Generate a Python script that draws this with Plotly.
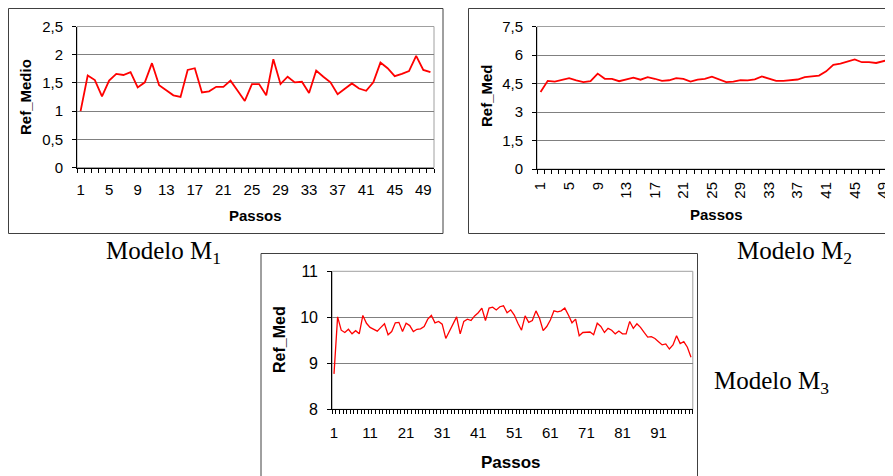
import plotly.graph_objects as go

# ---------------- data ----------------
m1_steps = list(range(1, 51))
m1_values = [1.00, 1.63, 1.55, 1.26, 1.54, 1.66, 1.64, 1.69, 1.42, 1.51,
             1.85, 1.46, 1.37, 1.28, 1.25, 1.73, 1.76, 1.33, 1.35, 1.43,
             1.43, 1.54, 1.36, 1.18, 1.48, 1.48, 1.28, 1.92, 1.48, 1.61,
             1.51, 1.52, 1.32, 1.72, 1.61, 1.51, 1.30, 1.40, 1.49, 1.40,
             1.36, 1.51, 1.86, 1.76, 1.62, 1.66, 1.71, 1.98, 1.73, 1.69]
m1_yticks = [0, 0.5, 1, 1.5, 2, 2.5]
m1_yticklabels = ["0", "0,5", "1", "1,5", "2", "2,5"]

m2_steps = list(range(1, 51))
m2_values = [4.05, 4.64, 4.60, 4.71, 4.78, 4.67, 4.57, 4.62, 5.02, 4.75,
             4.74, 4.62, 4.70, 4.81, 4.70, 4.83, 4.75, 4.64, 4.67, 4.78,
             4.74, 4.60, 4.70, 4.74, 4.86, 4.71, 4.57, 4.60, 4.68, 4.66,
             4.72, 4.87, 4.75, 4.64, 4.64, 4.66, 4.71, 4.83, 4.88, 4.92,
             5.14, 5.48, 5.55, 5.67, 5.77, 5.62, 5.62, 5.58, 5.67, 5.77]
m2_yticks = [0, 1.5, 3, 4.5, 6, 7.5]
m2_yticklabels = ["0", "1,5", "3", "4,5", "6", "7,5"]

m12_xticks = list(range(1, 51, 4))

m3_steps = list(range(1, 101))
m3_values = [8.77, 10.01, 9.72, 9.67, 9.74, 9.64, 9.71, 9.64, 10.04, 9.87,
             9.78, 9.74, 9.70, 9.78, 9.86, 9.62, 9.69, 9.88, 9.89, 9.69,
             9.87, 9.82, 9.69, 9.74, 9.75, 9.80, 9.96, 10.04, 9.88, 9.91,
             9.85, 9.54, 9.69, 9.87, 10.01, 9.64, 9.91, 9.96, 9.93, 10.03,
             10.10, 10.20, 9.93, 10.20, 10.22, 10.16, 10.23, 10.25, 10.10, 10.16,
             10.05, 9.87, 9.72, 10.03, 9.89, 9.93, 10.14, 9.98, 9.71, 9.80,
             9.94, 10.14, 10.12, 10.14, 10.20, 10.05, 9.88, 9.96, 9.60, 9.67,
             9.68, 9.68, 9.62, 9.87, 9.80, 9.67, 9.76, 9.72, 9.64, 9.70,
             9.64, 9.64, 9.91, 9.76, 9.86, 9.78, 9.67, 9.57, 9.58, 9.54,
             9.47, 9.40, 9.42, 9.31, 9.40, 9.60, 9.43, 9.47, 9.35, 9.13]
m3_yticks = [8, 9, 10, 11]
m3_yticklabels = ["8", "9", "10", "11"]
m3_xticks = list(range(1, 101, 10))

x_title = "Passos"
y_titles = ["Ref_Medio", "Ref_Med", "Ref_Med"]
captions = ["Modelo M<sub>1</sub>", "Modelo M<sub>2</sub>", "Modelo M<sub>3</sub>"]

# ---------------- layout helpers ----------------
W, H = 893, 476
OFF = 8  # the page body margin shifts the figure by 8 px


def fx(px):
    return (px - OFF) / W


def fy(py):
    return 1 - (py - OFF) / H


SANS = "Liberation Sans, Arial, sans-serif"
SERIF = "Liberation Serif, Times New Roman, serif"
RED = "#FF0000"
GRID = "#808080"
AXIS = "#000000"

fig = go.Figure()

fig.add_trace(go.Scatter(x=m1_steps, y=m1_values, mode="lines",
                         line=dict(color=RED, width=1.8), xaxis="x", yaxis="y",
                         showlegend=False, hoverinfo="x+y"))
fig.add_trace(go.Scatter(x=m2_steps, y=m2_values, mode="lines",
                         line=dict(color=RED, width=1.8), xaxis="x2", yaxis="y2",
                         showlegend=False, hoverinfo="x+y"))
fig.add_trace(go.Scatter(x=m3_steps, y=m3_values, mode="lines",
                         line=dict(color=RED, width=1.3), xaxis="x3", yaxis="y3",
                         showlegend=False, hoverinfo="x+y"))


def xaxis_cfg(domain, rng, tickvals, n, size, angle=0, standoff=6):
    return dict(
        domain=domain, range=rng, tickmode="array", tickvals=tickvals,
        ticktext=[str(v) for v in tickvals], ticks="", showgrid=False,
        zeroline=False, showline=True, linecolor=AXIS, linewidth=1,
        tickangle=angle, tickfont=dict(family=SANS, size=size, color="#000"),
        ticklabelstandoff=standoff, fixedrange=True, automargin=False,
        minor=dict(tickmode="array", tickvals=[i + 0.5 for i in range(n + 1)],
                   ticks="outside", ticklen=4, tickcolor=AXIS, tickwidth=1,
                   showgrid=False),
    )


def yaxis_cfg(domain, rng, tickvals, ticktext, size, anchor, standoff=6):
    return dict(
        domain=domain, range=rng, tickmode="array", tickvals=tickvals,
        ticktext=ticktext, ticks="outside", ticklen=4, tickcolor=AXIS,
        showgrid=True, gridcolor=GRID, gridwidth=1, zeroline=False,
        showline=True, linecolor=AXIS, linewidth=1, anchor=anchor,
        tickfont=dict(family=SANS, size=size, color="#000"),
        ticklabelstandoff=standoff, fixedrange=True, automargin=False,
    )


fig.update_layout(
    xaxis=dict(**xaxis_cfg([fx(77), fx(434)], [0.5, 50.5], m12_xticks, 50, 15,
                           standoff=8), anchor="y"),
    yaxis=yaxis_cfg([fy(167.5), fy(26.5)], [0, 2.5], m1_yticks, m1_yticklabels,
                    15, "x"),
    xaxis2=dict(**xaxis_cfg([fx(537), fx(894)], [0.5, 50.5], m12_xticks,
                            50, 15, angle=-90, standoff=6), anchor="y2"),
    yaxis2=yaxis_cfg([fy(169), fy(26.5)], [0, 7.5], m2_yticks, m2_yticklabels,
                     15, "x2"),
    xaxis3=dict(**xaxis_cfg([fx(332.2), fx(692.8)], [0.5, 100.5], m3_xticks,
                            100, 15, standoff=10), anchor="y3"),
    yaxis3=yaxis_cfg([fy(409.3), fy(271.3)], [8, 11], m3_yticks, m3_yticklabels,
                     16, "x3"),
)

shapes = []
box_line = dict(color="#404040", width=1)
shapes.append(dict(type="rect", xref="paper", yref="paper",
                   x0=fx(8.5), x1=fx(443), y0=fy(233.5), y1=fy(8.5), line=box_line))
shapes.append(dict(type="rect", xref="paper", yref="paper",
                   x0=fx(468.5), x1=fx(910), y0=fy(233.5), y1=fy(8.5), line=box_line))
shapes.append(dict(type="rect", xref="paper", yref="paper",
                   x0=fx(261), x1=fx(697.5), y0=fy(495), y1=fy(253.5), line=box_line))
frame = dict(color="#A0A0A0", width=1)
for xa in ["x", "x2", "x3"]:
    ya = xa.replace("x", "y")
    shapes.append(dict(type="rect", xref=f"{xa} domain", yref=f"{ya} domain",
                       x0=0, x1=1, y0=0, y1=1, line=frame, layer="below"))

annotations = []
for cx, cy, sz in [(255.5, 215, 15), (716, 214, 15), (511, 462, 17)]:
    annotations.append(dict(text=f"<b>{x_title}</b>", x=fx(cx), y=fy(cy),
                            xref="paper", yref="paper", showarrow=False,
                            xanchor="center", yanchor="middle",
                            font=dict(family=SANS, size=sz, color="#000")))
for (cx, cy, sz), t in zip([(25, 97, 15), (486, 96, 15), (279, 340, 16)], y_titles):
    annotations.append(dict(text=f"<b>{t}</b>", x=fx(cx), y=fy(cy),
                            xref="paper", yref="paper", showarrow=False,
                            xanchor="center", yanchor="middle", textangle=-90,
                            font=dict(family=SANS, size=sz, color="#000")))
for (lx, cy), t in zip([(104, 253), (735, 253), (712, 382)], captions):
    annotations.append(dict(text=t, x=fx(lx), y=fy(cy), xref="paper",
                            yref="paper", showarrow=False, xanchor="left",
                            yanchor="middle",
                            font=dict(family=SERIF, size=25, color="#000")))

fig.update_layout(
    width=W, height=H, autosize=False,
    margin=dict(l=0, r=0, t=0, b=0, pad=0, autoexpand=False),
    paper_bgcolor="white", plot_bgcolor="white",
    shapes=shapes, annotations=annotations, showlegend=False,
)

fig.write_html("out.html", config={"displayModeBar": False})
